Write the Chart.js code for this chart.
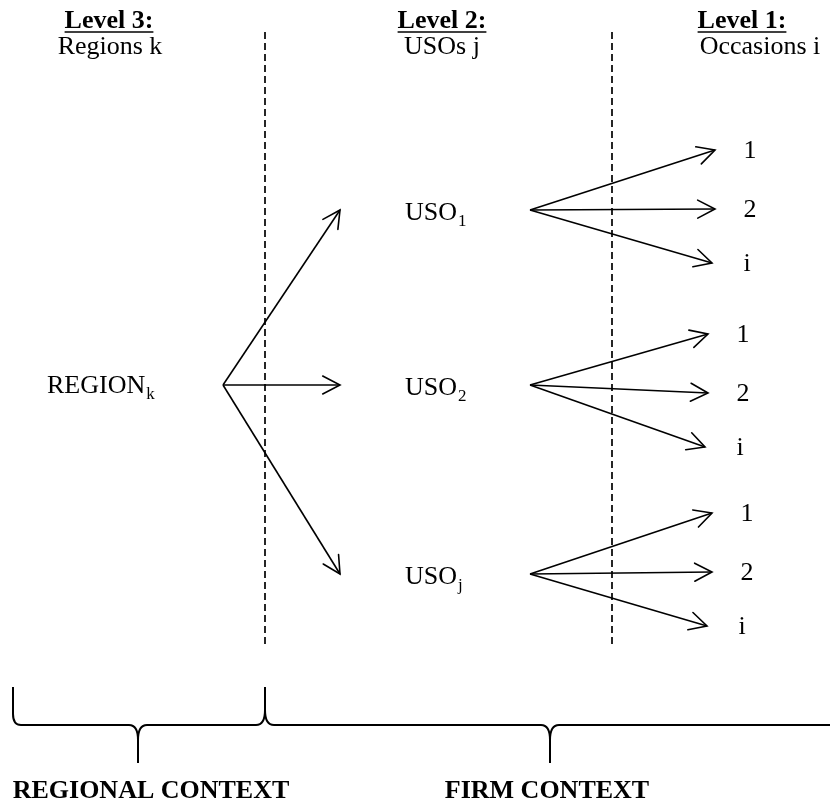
<!DOCTYPE html>
<html>
<head>
<meta charset="utf-8">
<script src="https://cdn.jsdelivr.net/npm/chart.js@4.4.1/dist/chart.umd.min.js"></script>
<style>
  html, body { margin: 0; padding: 0; background: #fff; }
  #diagram { display: block; }
</style>
</head>
<body>
<canvas id="diagram" width="830" height="802"></canvas>
<script>
// level headings (left to right)
const levelTitles = ['Level 3:', 'Level 2:', 'Level 1:'];
const levelNames = ['Regions k', 'USOs j', 'Occasions i'];
const titleCentres = [109, 442, 742];
const nameCentres = [110, 442, 760];

// nodes
const regionLabel = ['REGION', 'k'];
const regionRoot = [223, 385];
const usoLabels = [['USO', '1'], ['USO', '2'], ['USO', 'j']];
const usoTipX = 340;
const usoRootX = 530;
const usoRows = [210, 385, 574];
const occasionLabels = ['1', '2', 'i'];
const occasionTipX = [[715, 715, 712], [708, 708, 705], [712, 712, 707]];
const occasionTipY = [[150, 209, 263], [334, 393, 447], [513, 572, 626]];

// dashed separators
const separatorX = [265, 612];
const separatorY = [32, 648];

// contexts under the brace
const contextLabels = ['REGIONAL CONTEXT', 'FIRM CONTEXT'];
const contextCentres = [151, 547];
const braceTicks = [138, 550];

const ink = '#000';
const datasets = [];

function arrow(x0, y0, x1, y1) {
  datasets.push({
    data: [{x: x0, y: y0}, {x: x1, y: y1}],
    showLine: true, borderColor: ink, borderWidth: 1.6,
    pointRadius: 0, arrow: true
  });
}

usoRows.forEach(y => arrow(regionRoot[0], regionRoot[1], usoTipX, y));
usoRows.forEach((y, g) => {
  occasionTipY[g].forEach((ty, i) => arrow(usoRootX, y, occasionTipX[g][i], ty));
});
separatorX.forEach(x => {
  datasets.push({
    data: [{x: x, y: separatorY[0]}, {x: x, y: separatorY[1]}],
    showLine: true, borderColor: ink, borderWidth: 1.7,
    borderDash: [7, 4], pointRadius: 0
  });
});

const serif = '"Liberation Serif", "Times New Roman", serif';
const fontSize = 26;

// text with a subscript, left edge at x, baseline at y
function subText(ctx, parts, x, y) {
  ctx.textAlign = 'left';
  ctx.textBaseline = 'alphabetic';
  ctx.font = fontSize + 'px ' + serif;
  ctx.fillText(parts[0], x, y);
  const w = ctx.measureText(parts[0]).width;
  ctx.font = '17px ' + serif;
  ctx.fillText(parts[1], x + w + 1, y + 6);
}

const diagramPlugin = {
  id: 'diagram',
  afterDatasetsDraw(chart) {
    const ctx = chart.ctx;
    const sx = chart.scales.x, sy = chart.scales.y;
    const px = v => sx.getPixelForValue(v);
    const py = v => sy.getPixelForValue(v);
    ctx.save();
    ctx.fillStyle = ink;
    ctx.strokeStyle = ink;
    ctx.lineCap = 'round';

    // arrowheads
    chart.data.datasets.forEach((ds, i) => {
      if (!ds.arrow) return;
      const pts = chart.getDatasetMeta(i).data;
      const a = pts[0], b = pts[1];
      const ang = Math.atan2(b.y - a.y, b.x - a.x);
      const len = 19.5, spread = 0.48;
      ctx.lineWidth = 1.6;
      ctx.beginPath();
      ctx.moveTo(b.x - len * Math.cos(ang - spread), b.y - len * Math.sin(ang - spread));
      ctx.lineTo(b.x, b.y);
      ctx.lineTo(b.x - len * Math.cos(ang + spread), b.y - len * Math.sin(ang + spread));
      ctx.stroke();
    });

    // headings
    ctx.textAlign = 'center';
    ctx.textBaseline = 'alphabetic';
    levelTitles.forEach((t, i) => {
      const cx = px(titleCentres[i]);
      ctx.font = 'bold ' + fontSize + 'px ' + serif;
      ctx.fillText(t, cx, py(28));
      const w = ctx.measureText(t).width;
      ctx.lineWidth = 1.6;
      ctx.lineCap = 'butt';
      ctx.beginPath();
      ctx.moveTo(cx - w / 2, py(32));
      ctx.lineTo(cx + w / 2, py(32));
      ctx.stroke();
      ctx.font = fontSize + 'px ' + serif;
      ctx.fillText(levelNames[i], px(nameCentres[i]), py(54));
    });

    // node labels
    subText(ctx, regionLabel, px(47), py(regionRoot[1] + 8));
    usoLabels.forEach((l, i) => subText(ctx, l, px(405), py(usoRows[i] + 10)));
    ctx.font = fontSize + 'px ' + serif;
    ctx.textAlign = 'center';
    ctx.textBaseline = 'alphabetic';
    occasionTipY.forEach((row, g) => {
      row.forEach((ty, i) => {
        ctx.fillText(occasionLabels[i], px(occasionTipX[g][i] + 35), py(ty + 8));
      });
    });

    // curly brace under the separators
    const top = py(687), mid = py(725), tip = py(763);
    const cusp = (x, toY, bend) => {
      ctx.moveTo(px(x - 9), mid);
      ctx.quadraticCurveTo(px(x), mid, px(x), py(bend));
      ctx.lineTo(px(x), toY);
      ctx.moveTo(px(x + 9), mid);
      ctx.quadraticCurveTo(px(x), mid, px(x), py(bend));
    };
    ctx.lineWidth = 2;
    ctx.lineCap = 'butt';
    ctx.beginPath();
    ctx.moveTo(px(13), top);
    ctx.lineTo(px(13), py(714));
    ctx.quadraticCurveTo(px(13), mid, px(21), mid);
    ctx.lineTo(px(braceTicks[0] - 9), mid);
    cusp(braceTicks[0], tip, 740);
    ctx.moveTo(px(braceTicks[0] + 9), mid);
    ctx.lineTo(px(separatorX[0] - 9), mid);
    cusp(separatorX[0], top, 710);
    ctx.moveTo(px(separatorX[0] + 9), mid);
    ctx.lineTo(px(braceTicks[1] - 9), mid);
    cusp(braceTicks[1], tip, 740);
    ctx.moveTo(px(braceTicks[1] + 9), mid);
    ctx.lineTo(px(830), mid);
    ctx.stroke();

    // context labels
    ctx.font = 'bold ' + fontSize + 'px ' + serif;
    ctx.textAlign = 'center';
    ctx.textBaseline = 'alphabetic';
    contextLabels.forEach((t, i) => ctx.fillText(t, px(contextCentres[i]), py(798)));
    ctx.restore();
  }
};

new Chart(document.getElementById('diagram').getContext('2d'), {
  type: 'scatter',
  data: { datasets: datasets },
  options: {
    responsive: false,
    animation: false,
    devicePixelRatio: 1,
    layout: { padding: 0 },
    plugins: { legend: { display: false }, tooltip: { enabled: false } },
    scales: {
      x: { type: 'linear', min: 0, max: 830, display: false },
      y: { type: 'linear', min: 0, max: 802, reverse: true, display: false }
    }
  },
  plugins: [diagramPlugin]
});
</script>
</body>
</html>
